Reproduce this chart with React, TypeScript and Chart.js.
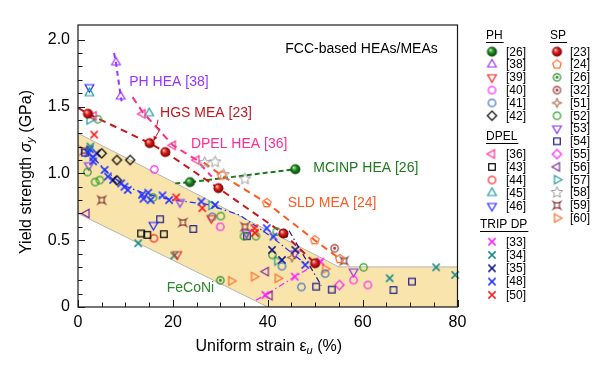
import React, { useEffect, useRef } from 'react';
import { Chart, registerables } from 'chart.js';

Chart.register(...registerables);

type P = [number, number];

// ---------- data (uniform strain %, yield strength GPa) ----------
const PH26: P[] = [[23.6, 0.934], [45.8, 1.031]];
const PH38: P[] = [[8.0, 1.83], [9.0, 1.575]];
const PH39: P[] = [[20.9, 0.395], [28.1, 0.665]];
const PH40: P[] = [[16.1, 1.03], [30.0, 0.6], [58.1, 0.202], [61.1, 0.165]];
const PH41: P[] = [[28.3, 0.675], [43.0, 0.305], [47.1, 0.15], [52.1, 0.25]];
const PH42: P[] = [[5.0, 1.15], [8.2, 1.1], [11.0, 1.1], [8.2, 0.948]];

const DPEL36: P[] = [[3.3, 1.43], [13.6, 1.445], [20.0, 1.21], [25.0, 1.1]];
const DPEL43: P[] = [[13.3, 0.55], [14.6, 0.54], [18.1, 0.545]];
const DPEL44: P[] = [[16.0, 0.514]];
const DPEL45: P[] = [[2.4, 1.6], [15.0, 1.45]];
const DPEL46: P[] = [[2.4, 1.645], [15.9, 0.614]];

const TRIP33: P[] = [[39.5, 0.09], [45.7, 0.227], [51.1, 0.34]];
const TRIP34: P[] = [[2.6, 1.2], [12.7, 0.477], [20.3, 0.385], [65.7, 0.215], [75.5, 0.297], [79.5, 0.24]];
const TRIP35: P[] = [[40.9, 0.427], [43.0, 0.352], [45.8, 0.427]];
const TRIP48: P[] = [
  [2.2, 1.15], [2.5, 1.18], [3.2, 1.12], [3.9, 1.15], [3.2, 1.09], [5.6, 1.026], [6.3, 0.976],
  [7.4, 0.951], [9.1, 0.925], [9.8, 0.9], [10.5, 0.876], [13.5, 0.84], [13.8, 0.81], [14.8, 0.855],
  [15.3, 0.8], [17.8, 0.835], [19.2, 0.8], [26.0, 0.789], [28.9, 0.764], [39.8, 0.59], [41.2, 0.527],
  [47.9, 0.315],
];
const TRIP50: P[] = [[3.4, 1.29], [20.7, 0.82], [26.2, 0.74], [37.2, 0.59], [37.3, 0.555]];

const SP23: P[] = [[2.1, 1.446], [15.1, 1.226], [18.4, 1.159], [29.6, 0.889], [43.3, 0.55], [50.0, 0.327]];
const SP24: P[] = [[30.3, 0.985], [39.8, 0.778], [49.9, 0.5], [55.2, 0.36]];
const SP26: P[] = [[30.0, 0.2]];
const SP32: P[] = [[54.1, 0.44]];
const SP51: P[] = [[45.1, 0.37]];
const SP52: P[] = [
  [2.0, 1.01], [3.6, 0.935], [4.6, 0.95], [4.2, 1.405], [15.8, 0.82], [30.1, 0.68], [35.0, 0.53],
  [37.5, 0.53], [41.9, 0.565], [41.0, 0.39], [60.2, 0.297],
];
const SP53: P[] = [[2.3, 1.06], [21.5, 0.785], [35.5, 0.555], [45.7, 0.4], [58.1, 0.265]];
const SP54: P[] = [[1.5, 1.155], [17.3, 0.657], [24.3, 0.584], [35.6, 0.53], [50.2, 0.152], [53.5, 0.13], [66.5, 0.127], [70.4, 0.19]];
const SP55: P[] = [[55.1, 0.165]];
const SP56: P[] = [[1.8, 0.7], [39.6, 0.265], [40.4, 0.085]];
const SP57: P[] = [[2.4, 1.4], [28.1, 0.76], [42.0, 0.345]];
const SP58: P[] = [[26.7, 1.08], [28.9, 1.085], [30.7, 0.99], [35.2, 0.958]];
const SP59: P[] = [[1.3, 1.17], [5.0, 0.8], [22.1, 0.632], [35.2, 0.6], [56.1, 0.345]];
const SP60: P[] = [[32.3, 0.195], [37.1, 0.227], [42.1, 0.215], [52.1, 0.285]];

// guide lines
const LINE_PH38: P[] = [[7.6, 1.9], [8.0, 1.83], [9.0, 1.575], [9.2, 1.54]];
const LINE_HGS: P[] = [[0, 1.49], ...SP23];
const LINE_DPEL: P[] = [[11.5, 1.57], [13.6, 1.46], [20.0, 1.21], [25.0, 1.1], [28.2, 0.975]];
const LINE_MCINP: P[] = [[20.5, 0.925], [23.6, 0.934], [45.8, 1.031], [47.3, 1.037]];
const LINE_SLD: P[] = [[26.5, 1.08], [30.3, 0.985], [39.8, 0.778], [49.9, 0.5], [55.2, 0.36]];
const LINE_TRIP48: P[] = [[1.5, 1.18], [5.6, 1.03], [9.5, 0.91], [14, 0.85], [20, 0.8], [27, 0.77], [34, 0.69], [41, 0.52], [48, 0.32]];
const LINE_TRIP35: P[] = [[44.5, 0.57], [51.3, 0.16]];
const LINE_TRIP33: P[] = [[37.5, 0.05], [39.5, 0.09], [45.7, 0.227], [51.1, 0.34], [52.0, 0.36]];

// shaded band (FeCoNi-like region)
const BAND: P[] = [[0, 1.3], [55, 0.3], [80, 0.3], [80, 0], [40, 0], [0, 0.7], [0, 1.3]];

// axes
const X_MIN = 0, X_MAX = 80, Y_MIN = 0, Y_MAX = 2.11;
const X_TICKS = [0, 20, 40, 60, 80];
const Y_TICKS = [0, 0.5, 1.0, 1.5, 2.0];
const X_MINOR = 5, Y_MINOR = 0.1;

const FONT = "'Liberation Sans', Arial, Helvetica, sans-serif";

const NOTES = [
  { text: 'FCC-based HEAs/MEAs', x: 43.7, y: 1.933, color: '#000000' },
  { text: 'PH HEA [38]', x: 10.8, y: 1.685, color: '#9933ff' },
  { text: 'HGS MEA [23]', x: 17.3, y: 1.453, color: '#c8161d' },
  { text: 'DPEL HEA [36]', x: 23.8, y: 1.221, color: '#ff2d8f' },
  { text: 'MCINP HEA [26]', x: 49.6, y: 1.041, color: '#1f7a1f' },
  { text: 'SLD MEA [24]', x: 44.2, y: 0.779, color: '#ff5a1f' },
  { text: 'FeCoNi', x: 18.7, y: 0.142, color: '#2a8a2a' },
];
const ARROW: P[] = [[16.88, 1.401], [16.56, 1.348], [17.3, 1.33], [16.24, 1.266], [15.93, 1.243]];

// ---------- markers ----------
const SPHERES: Record<string, string[]> = {
  red: ['#ffc0c0', '#dd1c1c', '#6e0000'],
  green: ['#c0f0c0', '#1f8f1f', '#083c08'],
};

function makeMarker(kind: string, color: string, r: number): HTMLCanvasElement {
  const S = Math.ceil(r * 2 + 5);
  const c = document.createElement('canvas');
  c.width = S; c.height = S;
  const g = c.getContext('2d') as CanvasRenderingContext2D;
  const cx = S / 2, cy = S / 2;
  g.strokeStyle = color; g.fillStyle = color; g.lineWidth = 1.2; g.lineJoin = 'miter';
  const poly = (pts: number[][]) => {
    g.beginPath();
    pts.forEach((p, i) => (i ? g.lineTo(p[0], p[1]) : g.moveTo(p[0], p[1])));
    g.closePath(); g.stroke();
  };
  const reg = (n: number, rr: number, start: number, inner = 0) => {
    const pts: number[][] = [];
    const m = inner ? n * 2 : n;
    for (let k = 0; k < m; k++) {
      const a = ((start + (k * 360) / m) * Math.PI) / 180;
      const rad = inner && k % 2 === 1 ? inner : rr;
      pts.push([cx + rad * Math.cos(a), cy - rad * Math.sin(a)]);
    }
    return pts;
  };
  switch (kind) {
    case 'sphere': {
      const st = SPHERES[color];
      const gr = g.createRadialGradient(cx - r * 0.35, cy - r * 0.4, r * 0.05, cx, cy, r);
      gr.addColorStop(0, st[0]); gr.addColorStop(0.45, st[1]); gr.addColorStop(1, st[2]);
      g.fillStyle = gr; g.beginPath(); g.arc(cx, cy, r, 0, Math.PI * 2); g.fill();
      break;
    }
    case 'triUp': poly(reg(3, r, 90)); break;
    case 'triDown': poly(reg(3, r, -90)); break;
    case 'triLeft': poly(reg(3, r, 180)); break;
    case 'triRight': poly(reg(3, r, 0)); break;
    case 'circle': g.beginPath(); g.arc(cx, cy, r, 0, Math.PI * 2); g.stroke(); break;
    case 'dotCircle':
      g.beginPath(); g.arc(cx, cy, r, 0, Math.PI * 2); g.stroke();
      g.beginPath(); g.arc(cx, cy, r * 0.4, 0, Math.PI * 2); g.fill();
      break;
    case 'diamond': poly(reg(4, r, 90)); break;
    case 'square': { const h = r * 0.78; g.strokeRect(cx - h, cy - h, 2 * h, 2 * h); break; }
    case 'pentagon': poly(reg(5, r, 90)); break;
    case 'star5': g.lineWidth = 1; poly(reg(5, r, 90, r * 0.45)); break;
    case 'star4': g.lineWidth = 1; poly(reg(4, r, 90, r * 0.35)); break;
    case 'quad': {
      const a = r * 0.75;
      g.beginPath();
      g.moveTo(cx - a, cy - a);
      g.quadraticCurveTo(cx, cy - a * 0.35, cx + a, cy - a);
      g.quadraticCurveTo(cx + a * 0.35, cy, cx + a, cy + a);
      g.quadraticCurveTo(cx, cy + a * 0.35, cx - a, cy + a);
      g.quadraticCurveTo(cx - a * 0.35, cy, cx - a, cy - a);
      g.closePath(); g.stroke();
      break;
    }
    case 'x': {
      const a = r * 0.8; g.lineWidth = 1.5;
      g.beginPath();
      g.moveTo(cx - a, cy - a); g.lineTo(cx + a, cy + a);
      g.moveTo(cx + a, cy - a); g.lineTo(cx - a, cy + a);
      g.stroke();
      break;
    }
  }
  return c;
}

interface Series { label: string; data: P[]; kind: string; color: string; r: number }

const SERIES_PH: Series[] = [
  { label: '[26]', data: PH26, kind: 'sphere', color: 'green', r: 5 },
  { label: '[38]', data: PH38, kind: 'triUp', color: '#9933ff', r: 5 },
  { label: '[39]', data: PH39, kind: 'triDown', color: '#ee2222', r: 5 },
  { label: '[40]', data: PH40, kind: 'circle', color: '#ff22ff', r: 3.7 },
  { label: '[41]', data: PH41, kind: 'circle', color: '#3d6fc8', r: 3.7 },
  { label: '[42]', data: PH42, kind: 'diamond', color: '#000000', r: 4.6 },
];
const SERIES_DPEL: Series[] = [
  { label: '[36]', data: DPEL36, kind: 'triLeft', color: '#ff2d8f', r: 5 },
  { label: '[43]', data: DPEL43, kind: 'square', color: '#000000', r: 4.2 },
  { label: '[44]', data: DPEL44, kind: 'circle', color: '#ff2020', r: 3.7 },
  { label: '[45]', data: DPEL45, kind: 'triUp', color: '#1a9a9a', r: 5 },
  { label: '[46]', data: DPEL46, kind: 'triDown', color: '#2424ff', r: 5 },
];
const SERIES_TRIP: Series[] = [
  { label: '[33]', data: TRIP33, kind: 'x', color: '#ff22ff', r: 4.5 },
  { label: '[34]', data: TRIP34, kind: 'x', color: '#1a8a8a', r: 4.5 },
  { label: '[35]', data: TRIP35, kind: 'x', color: '#1a1a8a', r: 4.5 },
  { label: '[48]', data: TRIP48, kind: 'x', color: '#2233ff', r: 4.5 },
  { label: '[50]', data: TRIP50, kind: 'x', color: '#ff1a1a', r: 4.5 },
];
const SERIES_SP: Series[] = [
  { label: '[23]', data: SP23, kind: 'sphere', color: 'red', r: 5 },
  { label: '[24]', data: SP24, kind: 'pentagon', color: '#ff6a2a', r: 4.5 },
  { label: '[26]', data: SP26, kind: 'dotCircle', color: '#2a8a2a', r: 3.7 },
  { label: '[32]', data: SP32, kind: 'dotCircle', color: '#993333', r: 3.7 },
  { label: '[51]', data: SP51, kind: 'star4', color: '#a0522d', r: 4.8 },
  { label: '[52]', data: SP52, kind: 'circle', color: '#2a9a2a', r: 3.7 },
  { label: '[53]', data: SP53, kind: 'triDown', color: '#8a33ee', r: 5 },
  { label: '[54]', data: SP54, kind: 'square', color: '#1a1a8a', r: 4.2 },
  { label: '[55]', data: SP55, kind: 'diamond', color: '#ff22ff', r: 4.6 },
  { label: '[56]', data: SP56, kind: 'triLeft', color: '#7a2a9a', r: 5 },
  { label: '[57]', data: SP57, kind: 'triRight', color: '#1a9a9a', r: 5 },
  { label: '[58]', data: SP58, kind: 'star5', color: '#9a9a9a', r: 6 },
  { label: '[59]', data: SP59, kind: 'quad', color: '#8b3a3a', r: 4.6 },
  { label: '[60]', data: SP60, kind: 'triRight', color: '#ff6a2a', r: 5 },
];

const LEGEND_GROUPS = [
  { title: 'PH', tx: 486, ty: 36, mx: 492, lx: 506, y0: 51.7, dy: 12.8, items: SERIES_PH },
  { title: 'DPEL', tx: 486, ty: 137, mx: 492, lx: 506, y0: 154, dy: 13, items: SERIES_DPEL },
  { title: 'TRIP DP', tx: 480, ty: 225, mx: 492, lx: 506, y0: 241.7, dy: 13.3, items: SERIES_TRIP },
  { title: 'SP', tx: 550, ty: 36, mx: 557, lx: 570, y0: 51.7, dy: 12.8, items: SERIES_SP },
];

const GUIDES = [
  { data: LINE_PH38, color: '#9933ff', width: 2, dash: [5, 4] },
  { data: LINE_HGS, color: '#c8161d', width: 2, dash: [7, 5] },
  { data: LINE_DPEL, color: '#ff2d8f', width: 2, dash: [7, 5] },
  { data: LINE_MCINP, color: '#1f7a1f', width: 2, dash: [5, 3] },
  { data: LINE_SLD, color: '#ff5a1f', width: 2, dash: [7, 5] },
  { data: LINE_TRIP48, color: '#2233ff', width: 1.2, dash: [6, 3, 1.5, 3] },
  { data: LINE_TRIP35, color: '#1a1a8a', width: 1.2, dash: [6, 3, 1.5, 3] },
  { data: LINE_TRIP33, color: '#ff22ff', width: 1.2, dash: [6, 3, 1.5, 3] },
];

const toXY = (d: P[]) => d.map(([x, y]) => ({ x, y }));

function drawRich(ctx: CanvasRenderingContext2D, parts: { t: string; f: string; dy?: number }[], cx: number, cy: number) {
  let total = 0;
  for (const p of parts) { ctx.font = p.f; total += ctx.measureText(p.t).width; }
  let x = cx - total / 2;
  ctx.textAlign = 'left'; ctx.textBaseline = 'middle';
  for (const p of parts) {
    ctx.font = p.f;
    ctx.fillText(p.t, x, cy + (p.dy || 0));
    x += ctx.measureText(p.t).width;
  }
}

const overlayPlugin = {
  id: 'overlay',
  afterDraw(chart: any) {
    const { ctx, chartArea: a, scales } = chart;
    const xs = scales.x, ys = scales.y;
    ctx.save();
    // frame
    ctx.strokeStyle = '#1a1a1a'; ctx.lineWidth = 1.2; ctx.setLineDash([]);
    ctx.strokeRect(a.left, a.top, a.right - a.left, a.bottom - a.top);
    // inward ticks
    ctx.lineWidth = 1;
    for (let v = X_MIN; v <= X_MAX + 1e-9; v += X_MINOR) {
      const px = Math.round(xs.getPixelForValue(v)) + 0.5;
      const len = X_TICKS.includes(v) ? 7 : 4.5;
      ctx.beginPath(); ctx.moveTo(px, a.bottom); ctx.lineTo(px, a.bottom - len); ctx.stroke();
    }
    for (let i = 0; i * Y_MINOR <= 2.0 + 1e-9; i++) {
      const v = i * Y_MINOR;
      const py = Math.round(ys.getPixelForValue(v)) + 0.5;
      const len = i % 5 === 0 ? 7 : 4.5;
      ctx.beginPath(); ctx.moveTo(a.left, py); ctx.lineTo(a.left + len, py); ctx.stroke();
    }
    // axis titles
    ctx.fillStyle = '#000';
    drawRich(ctx, [
      { t: 'Uniform strain ε', f: `16px ${FONT}` },
      { t: 'u', f: `italic 11px ${FONT}`, dy: 4 },
      { t: ' (%)', f: `16px ${FONT}` },
    ], (a.left + a.right) / 2 + 1, 347);
    ctx.save();
    ctx.translate(27, 172);
    ctx.rotate(-Math.PI / 2);
    drawRich(ctx, [
      { t: 'Yield strength ', f: `16px ${FONT}` },
      { t: 'σ', f: `italic 16px ${FONT}` },
      { t: 'y', f: `italic 11px ${FONT}`, dy: 4 },
      { t: ' (GPa)', f: `16px ${FONT}` },
    ], 0, 0);
    ctx.restore();
    // annotations
    ctx.font = `14px ${FONT}`; ctx.textAlign = 'left'; ctx.textBaseline = 'middle';
    for (const n of NOTES) {
      ctx.fillStyle = n.color;
      ctx.fillText(n.text, xs.getPixelForValue(n.x), ys.getPixelForValue(n.y));
    }
    // zigzag arrow
    const pts = ARROW.map(([x, y]) => [xs.getPixelForValue(x), ys.getPixelForValue(y)]);
    ctx.strokeStyle = '#c8161d'; ctx.fillStyle = '#c8161d'; ctx.lineWidth = 1;
    ctx.beginPath();
    pts.forEach((p, i) => (i ? ctx.lineTo(p[0], p[1]) : ctx.moveTo(p[0], p[1])));
    ctx.stroke();
    const t = pts[pts.length - 1], s = pts[pts.length - 2];
    const ang = Math.atan2(t[1] - s[1], t[0] - s[0]);
    ctx.beginPath();
    ctx.moveTo(t[0], t[1]);
    ctx.lineTo(t[0] - 5 * Math.cos(ang - 0.45), t[1] - 5 * Math.sin(ang - 0.45));
    ctx.lineTo(t[0] - 5 * Math.cos(ang + 0.45), t[1] - 5 * Math.sin(ang + 0.45));
    ctx.closePath(); ctx.fill();
    // legend
    ctx.fillStyle = '#000'; ctx.strokeStyle = '#000';
    for (const gp of LEGEND_GROUPS) {
      ctx.font = `12px ${FONT}`; ctx.textAlign = 'left'; ctx.textBaseline = 'middle';
      ctx.fillText(gp.title, gp.tx, gp.ty);
      const w = ctx.measureText(gp.title).width;
      ctx.lineWidth = 1;
      ctx.beginPath(); ctx.moveTo(gp.tx, gp.ty + 6.5); ctx.lineTo(gp.tx + w + 1, gp.ty + 6.5); ctx.stroke();
      gp.items.forEach((it, i) => {
        const y = gp.y0 + i * gp.dy;
        const img = makeMarker(it.kind, it.color, it.r);
        ctx.drawImage(img, gp.mx - img.width / 2, y - img.height / 2);
        ctx.fillStyle = '#000';
        ctx.fillText(it.label, gp.lx, y + 0.5);
      });
    }
    ctx.restore();
  },
};

export default function App() {
  const ref = useRef<HTMLCanvasElement>(null);
  useEffect(() => {
    if (!ref.current) return;
    const all = [...SERIES_PH, ...SERIES_DPEL, ...SERIES_TRIP, ...SERIES_SP];
    const markerSets = all.map((s) => ({
      label: s.label,
      data: toXY(s.data),
      showLine: false,
      pointStyle: makeMarker(s.kind, s.color, s.r),
      pointRadius: s.r,
      order: s.kind === 'sphere' ? 0 : 1,
      clip: 10,
    }));
    const guideSets = GUIDES.map((g) => ({
      data: toXY(g.data),
      showLine: true,
      pointRadius: 0,
      borderColor: g.color,
      borderWidth: g.width,
      borderDash: g.dash,
      fill: false,
      order: 5,
    }));
    const bandSet = {
      data: toXY(BAND),
      showLine: true,
      pointRadius: 0,
      borderColor: '#b5b5b5',
      borderWidth: 1,
      backgroundColor: '#f9e4ab',
      fill: 'shape',
      order: 10,
    };
    const chart = new Chart(ref.current, {
      type: 'scatter',
      data: { datasets: [...markerSets, ...guideSets, bandSet] as any },
      options: {
        animation: false,
        responsive: false,
        devicePixelRatio: 1,
        events: [],
        layout: { padding: { top: 25, right: 142.5, left: 0, bottom: 0 } },
        plugins: { legend: { display: false }, tooltip: { enabled: false } },
        scales: {
          x: {
            type: 'linear', min: X_MIN, max: X_MAX,
            afterFit: (s: any) => { s.height = 58; },
            afterBuildTicks: (s: any) => { s.ticks = X_TICKS.map((v) => ({ value: v })); },
            grid: { display: false, drawTicks: false },
            border: { display: false },
            ticks: { color: '#000', padding: 6, maxRotation: 0, font: { family: FONT, size: 16 }, callback: (v: any) => String(v) },
          },
          y: {
            type: 'linear', min: Y_MIN, max: Y_MAX,
            afterFit: (s: any) => { s.width = 78; },
            afterBuildTicks: (s: any) => { s.ticks = Y_TICKS.map((v) => ({ value: v })); },
            grid: { display: false, drawTicks: false },
            border: { display: false },
            ticks: { color: '#000', padding: 8, font: { family: FONT, size: 16 }, callback: (v: any) => (Number(v) === 0 ? '0' : Number(v).toFixed(1)) },
          },
        },
      } as any,
      plugins: [overlayPlugin],
    });
    return () => chart.destroy();
  }, []);
  return (
    <div style={{ position: 'absolute', left: 0, top: 0, width: 600, height: 365, background: '#fff' }}>
      <canvas ref={ref} width={600} height={365} style={{ display: 'block', width: 600, height: 365 }} />
    </div>
  );
}
